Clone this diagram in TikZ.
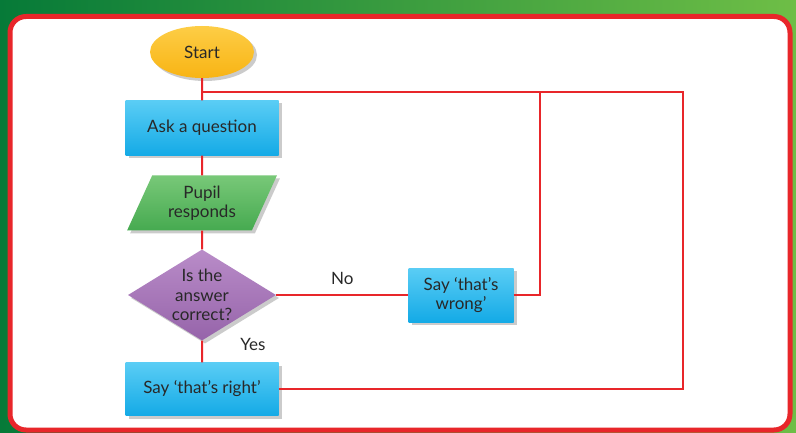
\documentclass[tikz,border=0pt]{standalone}
\usepackage{fontspec}
\setmainfont{Lato}
\usetikzlibrary{shapes.geometric,shadows}

\definecolor{wirered}{RGB}{232,38,42}
\definecolor{ink}{RGB}{40,40,40}
\definecolor{gdark}{RGB}{6,122,56}
\definecolor{glight}{RGB}{110,190,70}
\definecolor{boxtop}{RGB}{90,205,245}
\definecolor{boxbot}{RGB}{20,170,230}
\definecolor{iotop}{RGB}{120,200,120}
\definecolor{iobot}{RGB}{70,170,80}
\definecolor{dectop}{RGB}{185,140,200}
\definecolor{decbot}{RGB}{150,100,170}
\definecolor{termtop}{RGB}{253,205,70}
\definecolor{termbot}{RGB}{248,180,20}

\begin{document}
\begin{tikzpicture}[x=1pt,y=-1pt,
  font=\fontsize{17}{19.5}\selectfont, text=ink,
  shady/.style={drop shadow={shadow xshift=3pt,shadow yshift=-3pt,fill=black!40}},
  proc/.style={rectangle, shady, top color=boxtop, bottom color=boxbot, align=center, inner sep=0pt},
  term/.style={ellipse, shady, top color=termtop, bottom color=termbot, minimum width=104pt, minimum height=52pt, inner sep=0pt},
  io/.style={trapezium, trapezium left angle=64, trapezium right angle=116, trapezium stretches=true,
    shady, top color=iotop, bottom color=iobot, align=center, minimum width=150pt, minimum height=55pt, inner sep=0pt},
  decide/.style={diamond, aspect=1.63, shady, top color=dectop, bottom color=decbot, align=center,
    minimum width=148pt, minimum height=91pt, inner sep=-4pt},
  wire/.style={draw=wirered, line width=2pt}]

  \useasboundingbox (0,0) rectangle (796,433);
  % background and frame
  \shade[left color=gdark, right color=glight] (0,0) rectangle (796,433);
  \draw[wirered, line width=5pt, fill=white, rounded corners=16pt] (10,16.5) rectangle (790,430);

  % corners of the return lines
  \coordinate (j1) at (540,92);
  \coordinate (j2) at (683,92);

  \node[term] (start) at (202,52) {Start};
  \node[proc, minimum width=153pt, minimum height=55pt] (ask) at (202,128) {Ask a question};
  \node[io] (pupil) at (202,203) {Pupil\\responds};
  \node[decide] (answer) at (202,295) {Is the\\answer\\correct?};
  \node[proc, minimum width=105pt, minimum height=54pt] (wrong) at (461,295) {Say ‘that’s\\wrong’};
  \node[proc, minimum width=153pt, minimum height=53pt] (right) at (202,389) {Say ‘that’s right’};

  \draw[wire] (start) -- (ask) -- (pupil) -- (answer) -- (right);
  \draw[wire] (answer) -- (wrong) node[midway, above=6pt] {No};
  \draw[wire] (wrong.east) -| (j1);
  \draw[wire] (right.east) -| (j2) -- (start |- j2);
  \node (yes) at (253,344) {Yes};
\end{tikzpicture}
\end{document}
